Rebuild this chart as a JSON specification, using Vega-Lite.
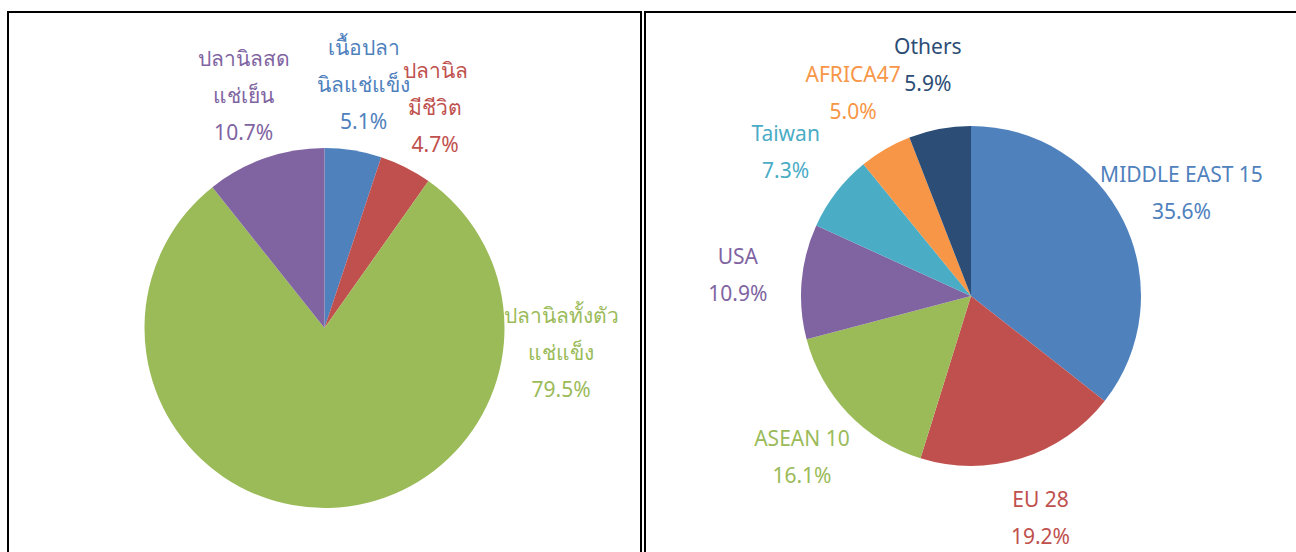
{
  "$schema": "https://vega.github.io/schema/vega-lite/v6.json",
  "padding": {"left": 7, "top": 11, "right": 0, "bottom": 0},
  "spacing": 2,
  "resolve": {"scale": {"color": "independent", "theta": "independent"}},
  "config": {
    "view": {"stroke": "#000000", "strokeWidth": 2},
    "text": {"font": "Noto Sans", "fontSize": 21, "lineHeight": 37, "lineBreak": "\n", "align": "center", "baseline": "middle"}
  },
  "hconcat": [
    {
      "width": 633,
      "height": 632,
      "view": {"stroke": "#000000", "strokeWidth": 2},
      "data": {"values": [
        {"category": "เนื้อปลา\nนิลแช่แข็ง", "share": 5.1, "n": 1},
        {"category": "ปลานิล\nมีชีวิต", "share": 4.7, "n": 2},
        {"category": "ปลานิลทั้งตัว\nแช่แข็ง", "share": 79.5, "n": 3},
        {"category": "ปลานิลสด\nแช่เย็น", "share": 10.7, "n": 4}
      ]},
      "transform": [{"calculate": "datum.category + '\\n' + format(datum.share, '.1f') + '%'", "as": "label"}],
      "encoding": {
        "theta": {"field": "share", "type": "quantitative", "stack": true},
        "order": {"field": "n", "type": "quantitative"},
        "color": {"field": "category", "type": "nominal", "legend": null,
          "scale": {"domain": ["เนื้อปลา\nนิลแช่แข็ง", "ปลานิล\nมีชีวิต", "ปลานิลทั้งตัว\nแช่แข็ง", "ปลานิลสด\nแช่เย็น"],
                    "range": ["#4F81BD", "#C0504D", "#9BBB59", "#8064A2"]}}
      },
      "layer": [
        {"mark": {"type": "arc", "outerRadius": 180}},
        {"mark": {"type": "text", "radius": 245, "dy": -37},
         "encoding": {"text": {"field": "label"},
           "opacity": {"condition": {"test": "datum.n === 3", "value": 0}, "value": 1}}},
        {"transform": [{"filter": "datum.n === 3"}],
         "mark": {"type": "text", "radius": 238, "theta": 1.68, "dy": -37},
         "encoding": {"text": {"field": "label"}, "theta": null, "order": null}}
      ]
    },
    {
      "width": 652,
      "height": 568,
      "view": {"stroke": "#000000", "strokeWidth": 2},
      "data": {"values": [
        {"category": "MIDDLE EAST 15", "share": 35.6, "n": 1},
        {"category": "EU 28", "share": 19.2, "n": 2},
        {"category": "ASEAN 10", "share": 16.1, "n": 3},
        {"category": "USA", "share": 10.9, "n": 4},
        {"category": "Taiwan", "share": 7.3, "n": 5},
        {"category": "AFRICA47", "share": 5.0, "n": 6},
        {"category": "Others", "share": 5.9, "n": 7}
      ]},
      "transform": [{"calculate": "datum.category + '\\n' + format(datum.share, '.1f') + '%'", "as": "label"}],
      "encoding": {
        "theta": {"field": "share", "type": "quantitative", "stack": true},
        "order": {"field": "n", "type": "quantitative"},
        "color": {"field": "category", "type": "nominal", "legend": null,
          "scale": {"domain": ["MIDDLE EAST 15", "EU 28", "ASEAN 10", "USA", "Taiwan", "AFRICA47", "Others"],
                    "range": ["#4F81BD", "#C0504D", "#9BBB59", "#8064A2", "#4BACC6", "#F79646", "#2C4D75"]}}
      },
      "layer": [
        {"mark": {"type": "arc", "outerRadius": 170}},
        {"mark": {"type": "text", "radius": 234, "dy": -18}, "encoding": {"text": {"field": "label"}}}
      ]
    }
  ]
}
